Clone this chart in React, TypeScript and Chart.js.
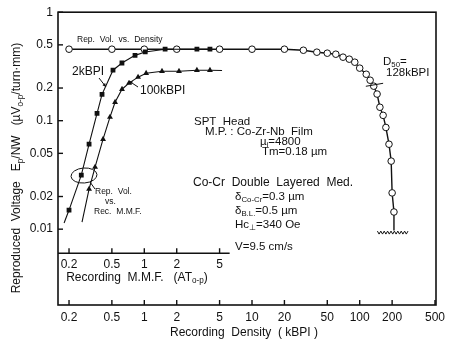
import React, { useEffect, useRef } from "react";
import { Chart, registerables } from "chart.js";

Chart.register(...registerables);

const FONT = "'Liberation Sans', Arial, Helvetica, sans-serif";
const INK = "#111";

// ---- axis ticks ----
const xTickValues = [0.2, 0.5, 1, 2, 5, 10, 20, 50, 100, 200, 500];
const mmfTickValues = [0.2, 0.5, 1, 2, 5];
const yTickValues = [0.01, 0.02, 0.05, 0.1, 0.2, 0.5, 1];

// ---- Rep. Vol. vs Density (open circles), x = kBPI ----
const densityX = [0.2, 0.5, 1, 2, 5, 10, 20, 30, 40, 50, 60, 70, 80, 90, 100, 115, 125, 135, 145, 154, 165, 175, 187, 196, 200, 208];
const densityY = [0.456, 0.456, 0.456, 0.456, 0.456, 0.456, 0.456, 0.446, 0.428, 0.419, 0.41, 0.385, 0.369, 0.346, 0.305, 0.268, 0.236, 0.208, 0.176, 0.133, 0.112, 0.0866, 0.0607, 0.0424, 0.0216, 0.0144];
const noiseFloor = 0.0097;
const noiseRange = [146, 290];
const d50Level = 0.212;
const d50Span = [114, 165];

// ---- Rep. Vol. vs Rec. M.M.F. at 2 kBPI (filled squares), x = AT0-p ----
const mmf2kX = [0.2, 0.26, 0.307, 0.364, 0.405, 0.512, 0.62, 0.82, 1.02, 1.56, 3.08, 4.07];
const mmf2kY = [0.015, 0.0315, 0.0607, 0.117, 0.175, 0.292, 0.34, 0.4, 0.43, 0.456, 0.456, 0.456];
const mmf2kStart = [0.18, 0.0114];

// ---- Rep. Vol. vs Rec. M.M.F. at 100 kBPI (filled triangles) ----
const mmf100X = [0.307, 0.349, 0.414, 0.48, 0.535, 0.621, 0.721, 0.875, 1.04, 1.46, 2.1, 3.08, 4.07];
const mmf100Y = [0.0234, 0.0373, 0.0675, 0.108, 0.148, 0.195, 0.222, 0.252, 0.274, 0.286, 0.286, 0.292, 0.292];
const mmf100Start = [0.264, 0.0116];
const mmf100End = [5.27, 0.29];

const mmfAxisLevel = 0.006;
const mmfAxisEnd = 6.2;

type Seg = [string, boolean?];

function segWidth(ctx: CanvasRenderingContext2D, segs: Seg[], size: number) {
  let w = 0;
  for (const [t, sub] of segs) {
    ctx.font = `${sub ? size * 0.68 : size}px ${FONT}`;
    w += ctx.measureText(t).width;
  }
  return w;
}

function drawRich(ctx: CanvasRenderingContext2D, segs: Seg[], x: number, y: number, size: number, align: "left" | "center" = "left") {
  ctx.save();
  ctx.fillStyle = INK;
  ctx.textBaseline = "middle";
  ctx.textAlign = "left";
  let cx = align === "center" ? x - segWidth(ctx, segs, size) / 2 : x;
  for (const [t, sub] of segs) {
    ctx.font = `${sub ? size * 0.68 : size}px ${FONT}`;
    ctx.fillText(t, cx, sub ? y + size * 0.28 : y);
    cx += ctx.measureText(t).width;
  }
  ctx.restore();
}

function line(ctx: CanvasRenderingContext2D, x1: number, y1: number, x2: number, y2: number) {
  ctx.beginPath();
  ctx.moveTo(x1, y1);
  ctx.lineTo(x2, y2);
  ctx.stroke();
}

function arrowHead(ctx: CanvasRenderingContext2D, x1: number, y1: number, x2: number, y2: number) {
  const a = Math.atan2(y2 - y1, x2 - x1);
  const L = 4;
  ctx.beginPath();
  ctx.moveTo(x2, y2);
  ctx.lineTo(x2 - L * Math.cos(a - 0.45), y2 - L * Math.sin(a - 0.45));
  ctx.lineTo(x2 - L * Math.cos(a + 0.45), y2 - L * Math.sin(a + 0.45));
  ctx.closePath();
  ctx.fill();
}

const decorPlugin = {
  id: "decor",
  afterDatasetsDraw(chart: any) {
    const ctx: CanvasRenderingContext2D = chart.ctx;
    const xs = chart.scales.x;
    const ys = chart.scales.y;
    const X = (v: number) => xs.getPixelForValue(v);
    const Y = (v: number) => ys.getPixelForValue(v);
    const { left, right, top, bottom } = chart.chartArea;
    ctx.save();
    ctx.strokeStyle = INK;
    ctx.fillStyle = INK;

    // frame
    ctx.lineWidth = 1.6;
    ctx.strokeRect(left, top, right - left, bottom - top);

    // inward ticks
    ctx.lineWidth = 1.4;
    for (const v of yTickValues) line(ctx, left, Y(v), left + 5, Y(v));
    for (const v of xTickValues) line(ctx, X(v), bottom, X(v), bottom - 5);

    // inner M.M.F. axis
    const ym = Y(mmfAxisLevel);
    ctx.lineWidth = 1.6;
    line(ctx, left, ym, X(mmfAxisEnd), ym);
    ctx.lineWidth = 1.4;
    for (const v of mmfTickValues) line(ctx, X(v), ym, X(v), ym - 5);
    ctx.font = `12px ${FONT}`;
    ctx.textAlign = "center";
    ctx.textBaseline = "middle";
    for (const v of mmfTickValues) ctx.fillText(String(v), X(v), ym + 11);
    drawRich(ctx, [["Recording  M.M.F.   (AT"], ["o-p", true], [")"]], 137, ym + 24, 12, "center");

    // main axis titles
    drawRich(ctx, [["Recording  Density  ( kBPI )"]], (left + right) / 2 - 3, 333, 12, "center");
    ctx.save();
    ctx.translate(17, 168);
    ctx.rotate(-Math.PI / 2);
    drawRich(ctx, [["Reproduced  Voltage   E"], ["p", true], ["/NW   (\u00B5V"], ["o-p", true], ["/turn\u00B7mm)"]], 0, 0, 12, "center");
    ctx.restore();

    // noise floor zigzag
    ctx.lineWidth = 1;
    const yz = Y(noiseFloor) + 2;
    const xa = X(noiseRange[0]);
    const xb = X(noiseRange[1]);
    ctx.beginPath();
    let k = 0;
    for (let x = xa; x <= xb; x += 1.7, k++) {
      const yy = yz + (k % 2 === 0 ? -1.5 : 1.5);
      if (k === 0) ctx.moveTo(x, yy);
      else ctx.lineTo(x, yy);
    }
    ctx.stroke();

    // D50 marker
    ctx.lineWidth = 1;
    line(ctx, X(d50Span[0]), Y(d50Level) + 1, X(d50Span[1]), Y(d50Level) - 2);

    // leaders
    line(ctx, 99, 78, 106, 87);
    arrowHead(ctx, 99, 78, 106, 87);
    line(ctx, 138, 87, 129, 81);
    arrowHead(ctx, 138, 87, 129, 81);

    // ellipse around the M.M.F. curves
    ctx.beginPath();
    ctx.ellipse(84, 175.5, 13, 7.5, -0.08, 0, Math.PI * 2);
    ctx.stroke();
    line(ctx, 90, 182, 95, 189);

    // annotations
    drawRich(ctx, [["Rep.  Vol.  vs.  Density"]], 77, 40, 8.5);
    drawRich(ctx, [["2kBPI"]], 72, 72, 12);
    drawRich(ctx, [["100kBPI"]], 140, 91, 12);
    drawRich(ctx, [["Rep.  Vol."]], 95, 192, 8.5);
    drawRich(ctx, [["vs."]], 105, 202, 8.5);
    drawRich(ctx, [["Rec.  M.M.F."]], 94, 212, 8.5);

    drawRich(ctx, [["SPT  Head"]], 194, 122, 11.5);
    drawRich(ctx, [["M.P. : Co-Zr-Nb  Film"]], 205, 132, 11.5);
    drawRich(ctx, [["\u00B5"], ["i", true], ["=4800"]], 260, 142, 11.5);
    drawRich(ctx, [["Tm=0.18 \u00B5m"]], 262, 152, 11.5);
    drawRich(ctx, [["Co-Cr  Double  Layered  Med."]], 193, 183, 12);
    drawRich(ctx, [["\u03B4"], ["Co-Cr", true], ["=0.3 \u00B5m"]], 235, 197, 11.5);
    drawRich(ctx, [["\u03B4"], ["B.L.", true], ["=0.5 \u00B5m"]], 235, 211, 11.5);
    drawRich(ctx, [["Hc"], ["\u22A5", true], ["=340 Oe"]], 235, 225, 11.5);
    drawRich(ctx, [["V=9.5 cm/s"]], 235, 247, 11.5);
    drawRich(ctx, [["D"], ["50", true], ["="]], 383, 62, 11.5);
    drawRich(ctx, [["128kBPI"]], 386, 73, 11.5);

    ctx.restore();
  },
};

function pts(xv: number[], yv: number[]) {
  return xv.map((x, i) => ({ x, y: yv[i] }));
}

export default function App() {
  const ref = useRef<HTMLCanvasElement>(null);
  useEffect(() => {
    const densityData = [...pts(densityX, densityY), { x: densityX[densityX.length - 1], y: noiseFloor }];
    const densityRadius = densityData.map((_, i) => (i === densityData.length - 1 ? 0 : 3.3));
    const d2k = [{ x: mmf2kStart[0], y: mmf2kStart[1] }, ...pts(mmf2kX, mmf2kY)];
    const r2k = d2k.map((_, i) => (i === 0 ? 0 : 3.4));
    const d100 = [{ x: mmf100Start[0], y: mmf100Start[1] }, ...pts(mmf100X, mmf100Y), { x: mmf100End[0], y: mmf100End[1] }];
    const r100 = d100.map((_, i) => (i === 0 || i === d100.length - 1 ? 0 : 3.4));

    const chart = new Chart(ref.current!, {
      type: "scatter",
      data: {
        datasets: [
          {
            label: "2kBPI",
            data: d2k,
            showLine: true,
            borderColor: INK,
            borderWidth: 1.1,
            pointStyle: "rect",
            pointRadius: r2k,
            pointBackgroundColor: INK,
            pointBorderColor: INK,
            pointBorderWidth: 0,
          },
          {
            label: "100kBPI",
            data: d100,
            showLine: true,
            borderColor: INK,
            borderWidth: 1.1,
            pointStyle: "triangle",
            pointRadius: r100,
            pointBackgroundColor: INK,
            pointBorderColor: INK,
            pointBorderWidth: 0,
          },
          {
            label: "Rep. Vol. vs. Density",
            data: densityData,
            showLine: true,
            borderColor: INK,
            borderWidth: 1.4,
            pointStyle: "circle",
            pointRadius: densityRadius,
            pointBackgroundColor: "#fff",
            pointBorderColor: INK,
            pointBorderWidth: 1,
          },
        ],
      },
      options: {
        animation: false,
        responsive: true,
        maintainAspectRatio: false,
        layout: { padding: { left: 0, top: 12, right: 15, bottom: 0 } },
        plugins: { legend: { display: false }, tooltip: { enabled: false } },
        scales: {
          x: {
            type: "logarithmic",
            min: 0.158,
            max: 511,
            afterBuildTicks: (s: any) => {
              s.ticks = xTickValues.map((value) => ({ value }));
            },
            afterFit: (s: any) => {
              s.height = 35;
            },
            ticks: {
              autoSkip: false,
              maxRotation: 0,
              padding: 5,
              color: INK,
              font: { size: 12, family: FONT },
              callback: (v: any) => String(v),
            },
            grid: { display: false, drawTicks: false },
            border: { display: false },
          },
          y: {
            type: "logarithmic",
            min: 0.002,
            max: 1,
            afterBuildTicks: (s: any) => {
              s.ticks = yTickValues.map((value) => ({ value }));
            },
            afterFit: (s: any) => {
              s.width = 58;
            },
            ticks: {
              autoSkip: false,
              padding: 5,
              color: INK,
              font: { size: 12, family: FONT },
              callback: (v: any) => String(v),
            },
            grid: { display: false, drawTicks: false },
            border: { display: false },
          },
        },
      },
      plugins: [decorPlugin],
    } as any);
    return () => chart.destroy();
  }, []);
  return (
    <div style={{ position: "fixed", left: 0, top: 0, width: 451, height: 340, background: "#fff" }}>
      <canvas ref={ref} />
    </div>
  );
}
